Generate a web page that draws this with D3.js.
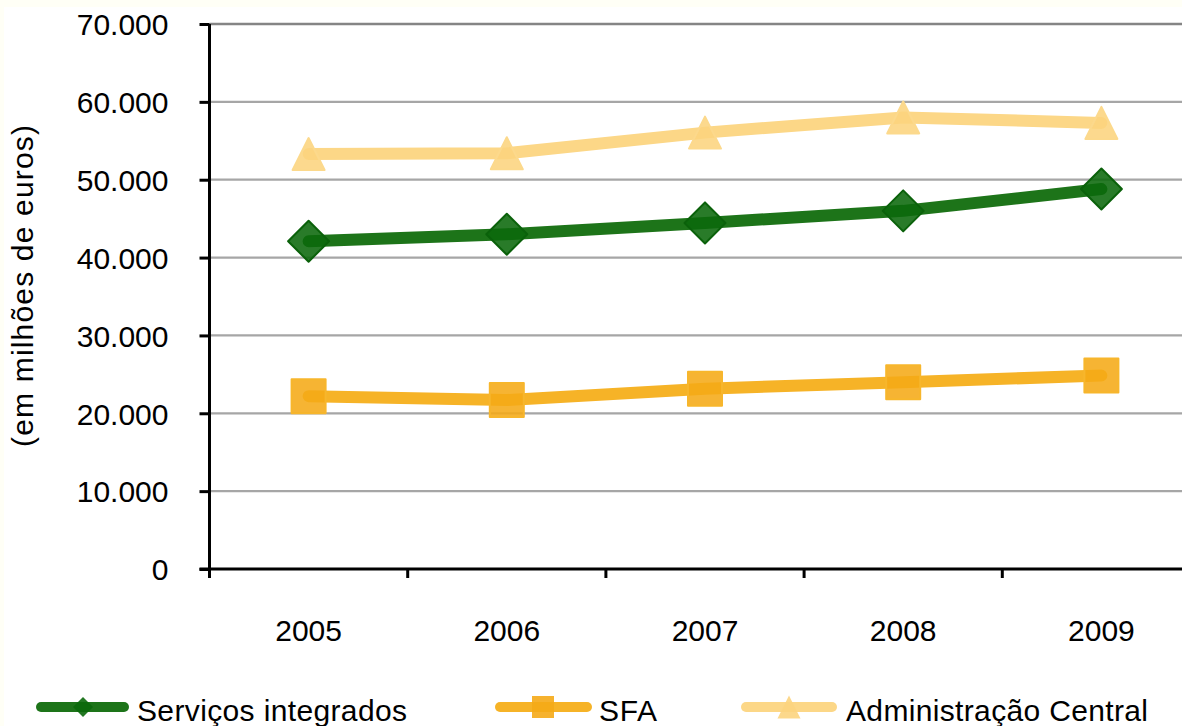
<!DOCTYPE html>
<html>
<head>
<meta charset="utf-8">
<script src="https://cdn.jsdelivr.net/npm/d3@7"></script>
<style>
  html, body { margin: 0; padding: 0; background: #fffff6; overflow: hidden; }
  svg { display: block; font-family: "Liberation Sans", Arial, sans-serif; }
</style>
</head>
<body>
<svg id="chart" width="1182" height="726"></svg>
<script>
// Despesa por subsector (em milhões de euros), 2005–2009
const years = ["2005", "2006", "2007", "2008", "2009"];
const servicosIntegrados = [42100, 43000, 44450, 46000, 48800];
const sfa = [22200, 21700, 23150, 24000, 24850];
const administracaoCentral = [53300, 53400, 56050, 58000, 57300];
const yTicks = [0, 10000, 20000, 30000, 40000, 50000, 60000, 70000];
const seriesNames = ["Serviços integrados", "SFA", "Administração Central"];

const series = [
  { name: seriesNames[0], values: servicosIntegrados, line: "#1d7419", fill: "#0b690b", stroke: "#0a610a", shape: "diamond", size: 43 },
  { name: seriesNames[1], values: sfa, line: "#f6b327", fill: "#f5aa17", stroke: "#f7b62c", shape: "square", size: 36 },
  { name: seriesNames[2], values: administracaoCentral, line: "#fcd787", fill: "#fcd47e", stroke: "#fcd98c", shape: "triangle", size: 34 }
];

const svg = d3.select("#chart");
svg.append("rect").attr("x", 4).attr("y", 7).attr("width", 1178).attr("height", 719).attr("fill", "#ffffff");

const plotLeft = 209.5, plotRight = 1200.5, plotTop = 24, plotBottom = 569;

const x = d3.scaleBand().domain(years).range([plotLeft, plotRight]).padding(0);
const cx = d => x(d) + x.bandwidth() / 2;
const y = d3.scaleLinear().domain([0, 70000]).range([plotBottom, plotTop]);

const fmt = v => v === 0 ? "0" : d3.format(",")(v).replace(/,/g, ".");

// horizontal gridlines
svg.append("g").selectAll("line")
  .data(yTicks.filter(t => t > 0))
  .join("line")
  .attr("x1", plotLeft).attr("x2", plotRight)
  .attr("y1", d => y(d)).attr("y2", d => y(d))
  .attr("stroke", d => d === 70000 ? "#858585" : "#a6a6a6")
  .attr("stroke-width", d => d === 70000 ? 2.5 : 2.2);

// y axis
const yAxis = svg.append("g")
  .attr("transform", `translate(${plotLeft},0)`)
  .call(d3.axisLeft(y).tickValues(yTicks).tickFormat(fmt).tickSize(10).tickPadding(31));
yAxis.select(".domain").attr("stroke", "#000").attr("stroke-width", 3)
  .attr("d", `M0,${plotTop}V${plotBottom + 1.5}`);
yAxis.selectAll(".tick line").attr("stroke", "#000").attr("stroke-width", 3);
yAxis.selectAll(".tick text").attr("font-size", 30).attr("fill", "#000")
  .attr("font-family", "Liberation Sans, Arial, sans-serif").attr("dy", "0.36em");

// x axis with ticks between categories
const xAxisG = svg.append("g").attr("transform", `translate(0,${plotBottom})`);
xAxisG.append("line").attr("x1", plotLeft - 10).attr("x2", plotRight)
  .attr("stroke", "#000").attr("stroke-width", 3);
xAxisG.selectAll("line.tk")
  .data(years)
  .join("line").attr("class", "tk")
  .attr("x1", d => x(d)).attr("x2", d => x(d))
  .attr("y1", 0).attr("y2", 9)
  .attr("stroke", "#000").attr("stroke-width", 3);
xAxisG.selectAll("text")
  .data(years)
  .join("text")
  .attr("x", d => cx(d)).attr("y", 72)
  .attr("text-anchor", "middle").attr("font-size", 30).attr("fill", "#000")
  .text(d => d);

// y axis title
svg.append("text")
  .attr("transform", "translate(33,286) rotate(-90)")
  .attr("text-anchor", "middle").attr("font-size", 30).attr("fill", "#000")
  .attr("textLength", 322).attr("lengthAdjust", "spacing")
  .text("(em milhões de euros)");

function symbolPath(shape, size) {
  const h = size / 2;
  if (shape === "diamond") return `M0,${-h}L${h},0L0,${h}L${-h},0Z`;
  if (shape === "square") return `M${-h},${-h}H${h}V${h}H${-h}Z`;
  return `M0,${-h}L${h},${h}H${-h}Z`;
}

const line = d3.line().x((d, i) => cx(years[i])).y(d => y(d));

series.forEach(s => {
  const g = svg.append("g");
  g.append("path")
    .attr("d", line(s.values))
    .attr("fill", "none").attr("stroke", s.line).attr("stroke-width", 12)
    .attr("stroke-linecap", "round").attr("stroke-linejoin", "round");
  g.selectAll("path.mk")
    .data(s.values)
    .join("path").attr("class", "mk")
    .attr("transform", (d, i) => `translate(${cx(years[i])},${y(d)})`)
    .attr("d", symbolPath(s.shape, s.size - 2))
    .attr("fill", s.fill).attr("fill-opacity", 0.88)
    .attr("stroke", s.stroke).attr("stroke-width", 2).attr("stroke-linejoin", "round");
});

// legend
const legendItems = [
  { s: series[0], x1: 36, x2: 129, mx: 83, tx: 137, msize: 20, tl: 270 },
  { s: series[1], x1: 495, x2: 592, mx: 543, tx: 599, msize: 22, tl: 58 },
  { s: series[2], x1: 741, x2: 837, mx: 789, tx: 846, msize: 23, tl: 302 }
];
const ly = 707;
legendItems.forEach(it => {
  const g = svg.append("g");
  g.append("line").attr("x1", it.x1 + 5).attr("x2", it.x2 - 5).attr("y1", ly).attr("y2", ly)
    .attr("stroke", it.s.line).attr("stroke-width", 10).attr("stroke-linecap", "round");
  g.append("path").attr("transform", `translate(${it.mx},${ly})`)
    .attr("d", symbolPath(it.s.shape, it.msize))
    .attr("fill", it.s.fill).attr("fill-opacity", 0.9);
  g.append("text").attr("x", it.tx).attr("y", 720.5)
    .attr("font-size", 30).attr("fill", "#000")
    .attr("textLength", it.tl).attr("lengthAdjust", "spacing")
    .text(it.s.name);
});
</script>
</body>
</html>
